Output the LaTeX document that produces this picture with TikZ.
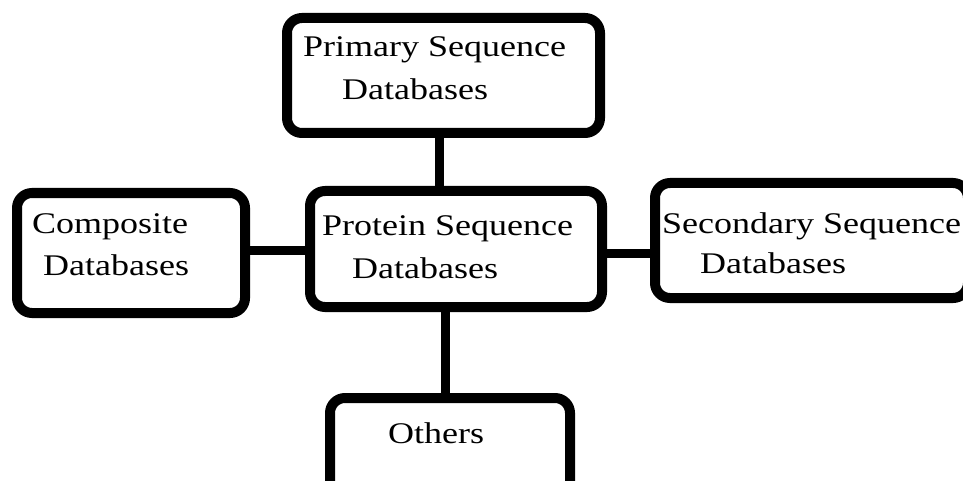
\documentclass[tikz,border=0pt]{standalone}
\usepackage{fontspec}
\setmainfont[FakeStretch=1.2]{Liberation Serif}
\begin{document}
\begin{tikzpicture}[x=1pt,y=-1pt,
  dbbox/.style={draw=black, line width=10pt, rounded corners=15pt, fill=white,
    inner sep=0pt, rectangle},
  link/.style={draw=black, line width=9pt},
  lbl/.style={anchor=base west, inner sep=0pt, font=\fontsize{30}{36}\selectfont}]
  \useasboundingbox (0,0) rectangle (963,481);
  \fill[white] (0,0) rectangle (963,481);

  % guide positions of the straight connectors
  \coordinate (vtop) at (439,0);
  \coordinate (vbot) at (445,0);
  \coordinate (hleft) at (0,250);
  \coordinate (hright) at (0,253);

  % database boxes
  \node[dbbox, minimum width=313pt, minimum height=115pt] (prim) at (443.5,75.5) {};
  \node[dbbox, minimum width=292pt, minimum height=116pt] (prot) at (456,249) {};
  \node[dbbox, minimum width=228pt, minimum height=120pt] (comp) at (131,253) {};
  \node[dbbox, minimum width=313pt, minimum height=115pt] (sec) at (811.5,240.5) {};
  \node[dbbox, minimum width=240pt, minimum height=100pt] (oth) at (450,448) {};

  % connectors between the boxes
  \draw[link] (prim.south -| vtop) -- (prot.north -| vtop);
  \draw[link] (prot.south -| vbot) -- (oth.north -| vbot);
  \draw[link] (comp.east |- hleft) -- (prot.west |- hleft);
  \draw[link] (prot.east |- hright) -- (sec.west |- hright);

  % labels
  \node[lbl] (prim1) at (303,57) {Primary Sequence};
  \node[lbl] (prim2) at (342,100) {Databases};
  \node[lbl] (prot1) at (322,235) {Protein Sequence};
  \node[lbl] (prot2) at (352,278) {Databases};
  \node[lbl] (comp1) at (32,233) {Composite};
  \node[lbl] (comp2) at (43,275) {Databases};
  \node[lbl] (sec1) at (662,233) {Secondary Sequence};
  \node[lbl] (sec2) at (700,273) {Databases};
  \node[lbl] (oth1) at (388,443) {Others};
\end{tikzpicture}
\end{document}
